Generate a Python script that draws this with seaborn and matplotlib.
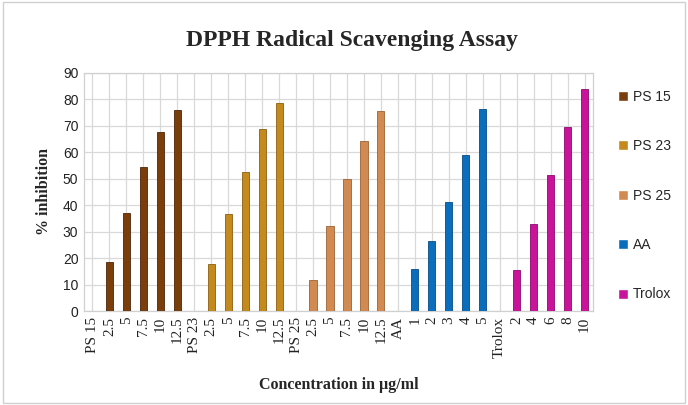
import matplotlib.pyplot as plt
import numpy as np
import pandas as pd
import seaborn as sns
from matplotlib.patches import Rectangle

# Data
groups = ["PS 15", "PS 23", "PS 25", "AA", "Trolox"]
ps15_conc = ["2.5", "5", "7.5", "10", "12.5"]
ps15_vals = [18.6, 37.2, 54.6, 67.6, 75.9]
ps23_conc = ["2.5", "5", "7.5", "10", "12.5"]
ps23_vals = [17.8, 36.6, 52.6, 68.8, 78.8]
ps25_conc = ["2.5", "5", "7.5", "10", "12.5"]
ps25_vals = [11.6, 32.3, 49.9, 64.3, 75.5]
aa_conc = ["1", "2", "3", "4", "5"]
aa_vals = [15.8, 26.5, 41.3, 59.0, 76.3]
trolox_conc = ["2", "4", "6", "8", "10"]
trolox_vals = [15.5, 32.9, 51.3, 69.6, 84.0]

colors = ["#7A3E0C", "#C48A1E", "#D08A52", "#0A6EBD", "#C8139A"]
edge_colors = ["#4E2606", "#8A5F10", "#9C6234", "#064C85", "#8C0A6A"]

# Build a long table: each group gets a header slot then its concentrations
rows = []
tick_labels = []
pos = 0
for name, concs, vals in zip(
    groups,
    [ps15_conc, ps23_conc, ps25_conc, aa_conc, trolox_conc],
    [ps15_vals, ps23_vals, ps25_vals, aa_vals, trolox_vals],
):
    tick_labels.append(name)
    pos += 1
    for c, v in zip(concs, vals):
        rows.append({"pos": pos, "value": v, "group": name})
        tick_labels.append(c)
        pos += 1
df = pd.DataFrame(rows)
n_slots = len(tick_labels)

sns.set_theme(style="white")
plt.rcParams["font.family"] = ["Liberation Serif", "DejaVu Serif"]

fig = plt.figure(figsize=(6.88, 4.05), dpi=100)
ax = fig.add_axes([0.122, 0.232, 0.74, 0.588])

sns.barplot(
    data=df, x="pos", y="value", hue="group", hue_order=groups,
    order=list(range(n_slots)), palette=colors, dodge=False, saturation=1,
    width=0.42, ax=ax, legend=True, zorder=3,
)
for container, ec in zip(ax.containers, edge_colors):
    for bar in container:
        bar.set_edgecolor(ec)
        bar.set_linewidth(0.6)

ax.set_ylim(0, 90)
ax.set_yticks(np.arange(0, 91, 10))
ax.set_xlim(-0.5, n_slots - 0.5)
ax.set_xticks(range(n_slots))
ax.set_xticklabels(tick_labels, rotation=90, fontsize=11, family="Liberation Serif")
for lbl in ax.get_yticklabels():
    lbl.set_family("Liberation Sans")
    lbl.set_fontsize(10)
ax.tick_params(axis="both", length=0, pad=4, colors="#222222")

ax.grid(True, color="#D9D9D9", linewidth=0.9, zorder=0)
ax.set_axisbelow(True)
for side in ["left", "right", "top", "bottom"]:
    ax.spines[side].set_color("#D0D0D0")
    ax.spines[side].set_linewidth(0.9)

ax.set_xlabel("Concentration in µg/ml", fontsize=11.5, fontweight="bold", labelpad=14)
ax.set_ylabel("% inhibition", fontsize=11.5, fontweight="bold", labelpad=8)
fig.suptitle("DPPH Radical Scavenging Assay", fontsize=17, fontweight="bold",
             x=0.512, y=0.925)

handles, labels = ax.get_legend_handles_labels()
ax.get_legend().remove()
fig.legend(
    handles, labels, loc="center left", bbox_to_anchor=(0.88, 0.517),
    frameon=False, labelspacing=2.55, handlelength=0.75, handleheight=0.75,
    handletextpad=0.3, prop={"family": "Liberation Sans", "size": 10},
)

fig.patches.append(
    Rectangle((0.004, 0.006), 0.992, 0.988, transform=fig.transFigure,
              fill=False, edgecolor="#D0D0D0", linewidth=1.0)
)

fig.savefig("out.png", dpi=100)
